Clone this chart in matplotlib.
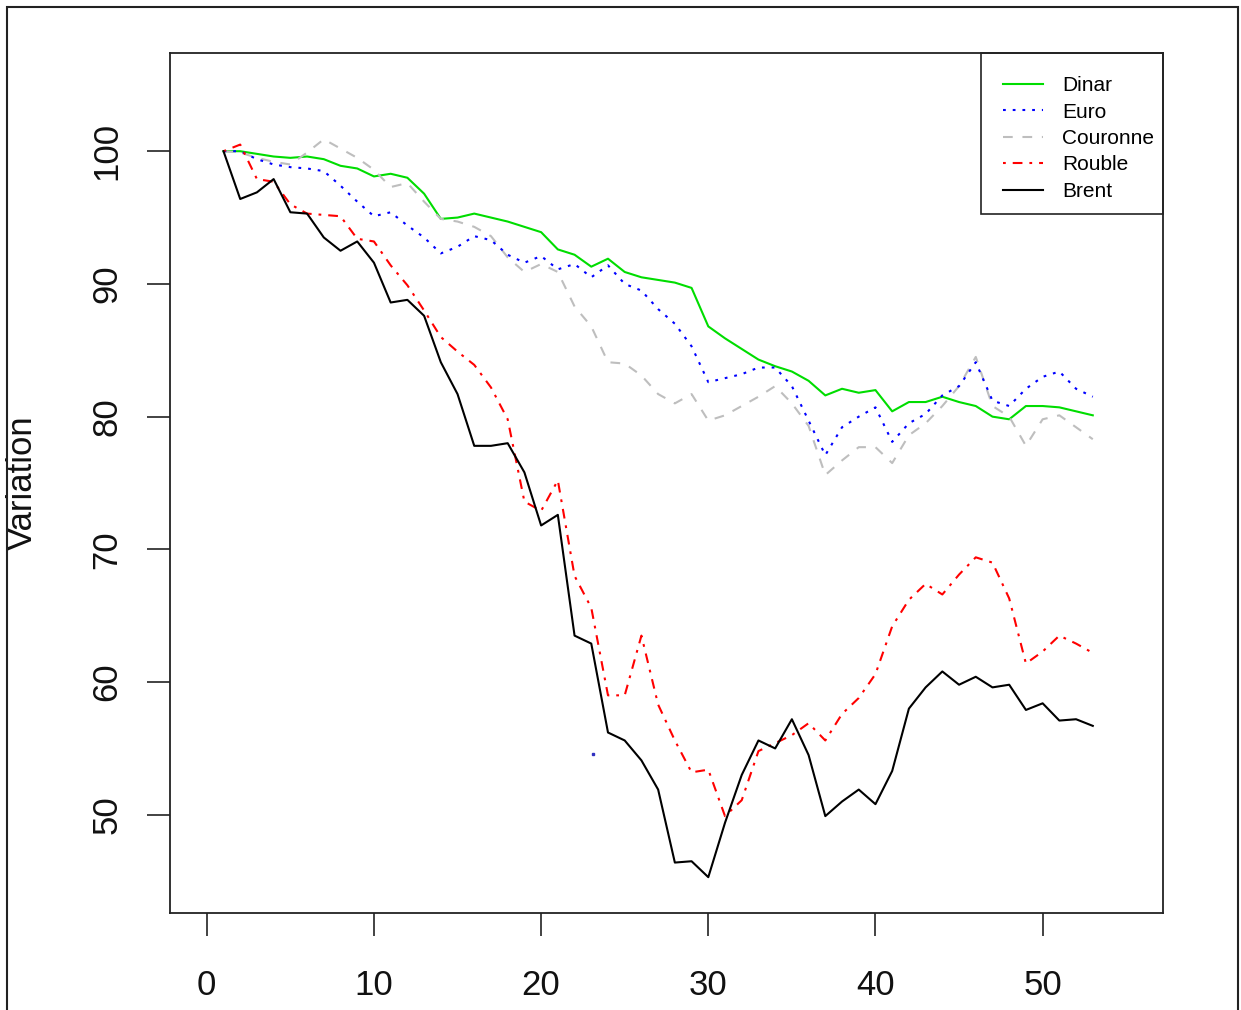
import matplotlib
matplotlib.use("Agg")
import matplotlib.pyplot as plt
from matplotlib.patches import Rectangle

plt.rcParams['font.family'] = ['Liberation Sans', 'DejaVu Sans']
plt.rcParams['lines.scale_dashes'] = False

x = list(range(1, 54))

dinar = [100, 100, 99.8, 99.6, 99.5, 99.6, 99.4, 98.9, 98.7, 98.1, 98.3, 98.0, 96.8, 94.9, 95.0,
         95.3, 95.0, 94.7, 94.3, 93.9, 92.6, 92.2, 91.3, 91.9, 90.9, 90.5, 90.3, 90.1, 89.7, 86.8,
         85.9, 85.1, 84.3, 83.8, 83.4, 82.7, 81.6, 82.1, 81.8, 82.0, 80.4, 81.1, 81.1, 81.5, 81.1,
         80.8, 80.0, 79.8, 80.8, 80.8, 80.7, 80.4, 80.1]
euro = [100, 100, 99.4, 99.0, 98.8, 98.7, 98.5, 97.4, 96.2, 95.1, 95.4, 94.4, 93.5, 92.3, 92.8,
        93.6, 93.3, 92.2, 91.6, 92.1, 91.1, 91.5, 90.5, 91.4, 90.0, 89.5, 88.1, 87.0, 85.3, 82.6,
        82.9, 83.2, 83.7, 83.7, 82.3, 79.7, 77.1, 79.2, 80.0, 80.7, 78.1, 79.5, 80.2, 81.6, 82.3,
        84.1, 81.2, 80.8, 82.1, 83.0, 83.4, 82.1, 81.5]
couronne = [100, 99.9, 99.5, 99.2, 99.0, 99.9, 100.9, 100.2, 99.5, 98.6, 97.3, 97.6, 96.2, 94.9, 94.7,
            94.3, 93.6, 92.0, 90.9, 91.5, 90.9, 88.3, 86.8, 84.1, 84.0, 83.1, 81.7, 81.0, 81.7, 79.7,
            80.1, 80.8, 81.5, 82.3, 81.0, 79.3, 75.6, 76.7, 77.7, 77.7, 76.5, 78.6, 79.5, 80.8, 82.3,
            84.5, 80.8, 80.0, 77.8, 79.8, 80.1, 79.2, 78.3]
rouble = [100, 100.5, 97.9, 97.7, 96.0, 95.3, 95.2, 95.1, 93.4, 93.2, 91.4, 89.9, 88.0, 86.0, 84.9,
          83.9, 82.2, 79.8, 73.6, 72.9, 75.2, 68.0, 65.6, 59.0, 59.0, 63.5, 58.3, 55.6, 53.2, 53.4,
          49.9, 51.1, 54.8, 55.4, 56.0, 56.9, 55.6, 57.6, 58.8, 60.6, 64.2, 66.2, 67.4, 66.6, 68.1,
          69.4, 69.0, 66.3, 61.4, 62.3, 63.5, 62.9, 62.2]
brent = [100, 96.4, 96.9, 97.9, 95.4, 95.3, 93.5, 92.5, 93.2, 91.6, 88.6, 88.8, 87.6, 84.1, 81.7,
         77.8, 77.8, 78.0, 75.8, 71.8, 72.6, 63.5, 62.9, 56.2, 55.6, 54.1, 51.9, 46.4, 46.5, 45.3,
         49.4, 53.0, 55.6, 55.0, 57.2, 54.5, 49.9, 51.0, 51.9, 50.8, 53.3, 58.0, 59.6, 60.8, 59.8,
         60.4, 59.6, 59.8, 57.9, 58.4, 57.1, 57.2, 56.7]
stray_x = [23.1]
stray_y = [54.6]

labels = ["Dinar", "Euro", "Couronne", "Rouble", "Brent"]
xticks = [0, 10, 20, 30, 40, 50]
yticks = [50, 60, 70, 80, 90, 100]

W, H = 1241, 1010
fig = plt.figure(figsize=(W/100, H/100), dpi=100)
ax = fig.add_axes([170/W, 1-913/H, (1163-170)/W, (913-53)/H])

lw = 1.5
ax.plot(x, dinar, color='#00dd00', lw=lw, label=labels[0])
ax.plot(x, couronne, color='#bebebe', lw=lw, dashes=(7, 7), label=labels[2])
ax.plot(x, euro, color='#0000ff', lw=lw, dashes=(2.0, 5.0), label=labels[1])
ax.plot(x, rouble, color='#ff0000', lw=lw, dashes=(2.0, 5.0, 7, 5.0), label=labels[3])
ax.plot(x, brent, color='black', lw=lw, label=labels[4])
ax.plot(stray_x, stray_y, marker='s', ms=1.5, color='#3030c0', ls='none')

ax.set_xlim(-2.2, 57.2)
ax.set_ylim(42.6, 107.4)
ax.set_xticks(xticks)
ax.set_yticks(yticks)
ax.tick_params(axis='both', length=16.5, width=1.2, color='#222222', labelsize=25, labelcolor='#111111')
ax.tick_params(axis='x', pad=24)
ax.tick_params(axis='y', pad=17)
for lab in ax.get_yticklabels():
    lab.set_rotation(90)
    lab.set_va('center')
for s in ax.spines.values():
    s.set_linewidth(1.3)
    s.set_color('#222222')

fig.text(22/W, 1-483/H, "Variation", rotation=90, ha='center', va='center',
         fontsize=25, color='#111111')

handles, lbls = ax.get_legend_handles_labels()
order = [lbls.index(l) for l in labels]
leg = ax.legend([handles[i] for i in order], [lbls[i] for i in order],
                loc='upper left', bbox_to_anchor=(1003/W, 1-76/H), bbox_transform=fig.transFigure,
                borderaxespad=0, borderpad=0, frameon=False,
                fontsize=15, handlelength=1.9, handletextpad=0.95, labelspacing=0.36)

fig.patches.append(Rectangle((981/W, 1-214/H), (1163-981)/W, (214-53)/H,
                             transform=fig.transFigure, fill=True, facecolor='none',
                             edgecolor='#222222', linewidth=1.2, zorder=5))

fig.patches.append(Rectangle((7/W, -0.02), (1238-7)/W, 1.02-7/H,
                             transform=fig.transFigure, fill=False, edgecolor='#222222',
                             linewidth=1.5, zorder=10))

fig.savefig("out.png", dpi=100)
